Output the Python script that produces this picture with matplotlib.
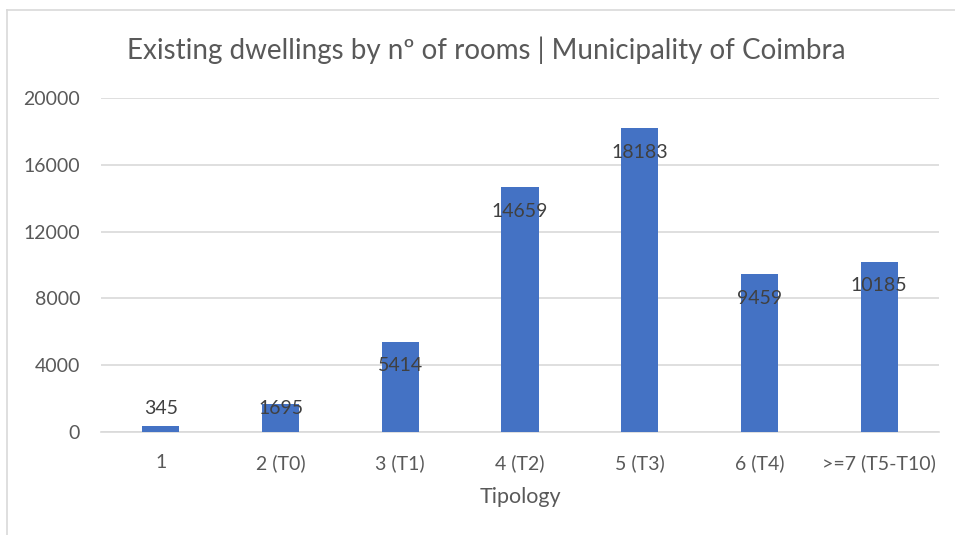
import matplotlib
matplotlib.use("Agg")
import matplotlib.pyplot as plt
from matplotlib.lines import Line2D

categories = ["1", "2 (T0)", "3 (T1)", "4 (T2)", "5 (T3)", "6 (T4)", ">=7 (T5-T10)"]
dwellings = [345, 1695, 5414, 14659, 18183, 9459, 10185]
y_ticks = [0, 4000, 8000, 12000, 16000, 20000]

W, H = 955, 535
fig = plt.figure(figsize=(W / 100, H / 100), dpi=100)
plt.rcParams["font.family"] = ["Lato", "DejaVu Sans"]

# plot area in pixels
left_px, right_px, top_px, base_px = 101, 939, 98, 432
ax = fig.add_axes([left_px / W, 1 - base_px / H,
                   (right_px - left_px) / W, (base_px - top_px) / H])

bar_color = "#4472C4"
text_grey = "#595959"
grid_grey = "#D9D9D9"

x = list(range(len(categories)))
ax.bar(x, dwellings, width=0.31, color=bar_color, zorder=3)
ax.set_xlim(-0.5, len(categories) - 0.5)
ax.set_ylim(0, 20000)
ax.set_yticks(y_ticks)
ax.set_yticklabels([str(t) for t in y_ticks])
ax.set_xticks(x)
ax.set_xticklabels(categories)
ax.grid(axis="y", color=grid_grey, linewidth=1.2, zorder=0)
for side in ("top", "right", "left"):
    ax.spines[side].set_visible(False)
ax.spines["bottom"].set_color(grid_grey)
ax.spines["bottom"].set_linewidth(1.2)
ax.tick_params(axis="both", length=0, labelsize=14, labelcolor=text_grey)
ax.tick_params(axis="y", pad=15)
ax.tick_params(axis="x", pad=16)
ax.set_xlabel("Tipology", fontsize=15.5, color=text_grey, labelpad=11)

# value labels near the top inside each bar, kept above the baseline
units_per_px = 20000 / (base_px - top_px)
inset = 24 * units_per_px
for xi, v in zip(x, dwellings):
    ly = max(v - inset, inset)
    ax.text(xi, ly, str(v), ha="center", va="center", fontsize=14,
            color="#404040", zorder=4)

fig.text(486 / W, 1 - 50 / H, "Existing dwellings by nº of rooms | Municipality of Coimbra",
         ha="center", va="center", fontsize=20, color=text_grey)

# chart frame edges
fig.add_artist(Line2D([7 / W, 1.0], [1 - 10 / H, 1 - 10 / H], transform=fig.transFigure,
                      color=grid_grey, linewidth=1.2))
fig.add_artist(Line2D([7 / W, 7 / W], [0.0, 1 - 10 / H], transform=fig.transFigure,
                      color=grid_grey, linewidth=1.2))

fig.savefig("out.png", dpi=100, facecolor="white")
